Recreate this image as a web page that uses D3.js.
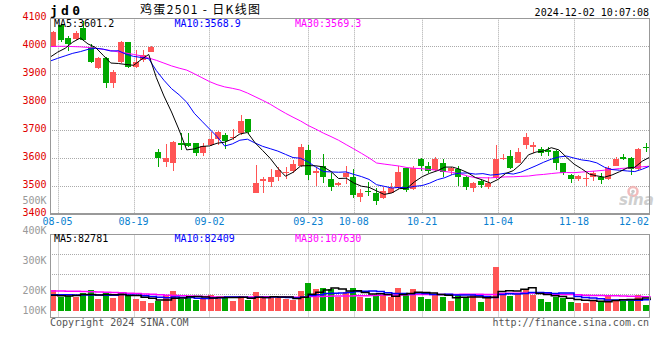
<!DOCTYPE html>
<html>
<head>
<meta charset="utf-8">
<script src="https://cdn.jsdelivr.net/npm/d3@7"></script>
<style>
  html, body { margin: 0; padding: 0; background: #fff; }
  svg { display: block; }
  text { font-family: "DejaVu Sans Mono", monospace; font-size: 10px; }
</style>
</head>
<body>
<div id="chart"></div>
<script>
// trading days shown, 08-02 .. 12-02
const dates = ['08-02','08-05','08-06','08-07','08-08','08-09','08-12','08-13','08-14','08-15',
  '08-16','08-19','08-20','08-21','08-22','08-23','08-26','08-27','08-28','08-29',
  '08-30','09-02','09-03','09-04','09-05','09-06','09-09','09-10','09-11','09-12',
  '09-13','09-18','09-19','09-20','09-23','09-24','09-25','09-26','09-27','09-30',
  '10-08','10-09','10-10','10-11','10-14','10-15','10-16','10-17','10-18','10-21',
  '10-22','10-23','10-24','10-25','10-28','10-29','10-30','10-31','11-01','11-04',
  '11-05','11-06','11-07','11-08','11-11','11-12','11-13','11-14','11-15','11-18',
  '11-19','11-20','11-21','11-22','11-25','11-26','11-27','11-28','11-29','12-02']
const tickDates = ['08-05','08-19','09-02','09-23','10-08','10-21','11-04','11-18','12-02']

const open = [3999,4076,4031,4026,4064,3999,3924,3957,3868,3945,
  4014,3927,3951,3981,3624,3588,3582,3654,3654,3654,
  3620,3648,3668,3683,3671,3691,3739,3477,3520,3516,
  3534,3549,3555,3573,3630,3546,3573,3526,3505,3532,
  3534,3463,3483,3477,3457,3477,3493,3564,3489,3598,
  3573,3558,3584,3555,3561,3534,3495,3519,3499,3529,
  3596,3608,3584,3648,3639,3633,3630,3627,3582,3540,
  3525,3525,3532,3534,3525,3573,3606,3602,3561,3639]
const close = [4052,4022,4007,4046,4022,3945,3959,3868,3907,4014,
  3927,3945,3969,3999,3600,3600,3659,3647,3644,3618,
  3644,3668,3695,3663,3675,3733,3695,3511,3525,3534,
  3558,3552,3580,3639,3540,3555,3532,3499,3513,3546,
  3469,3475,3479,3449,3483,3495,3552,3487,3564,3573,
  3556,3598,3552,3564,3532,3496,3513,3505,3511,3598,
  3602,3564,3621,3677,3648,3620,3623,3582,3546,3525,
  3537,3529,3549,3523,3564,3596,3596,3561,3633,3636]
const high = [4055,4080,4038,4055,4090,4007,3962,3960,3915,4018,
  4016,3987,3987,4002,3632,3651,3663,3689,3691,3656,
  3654,3695,3699,3691,3704,3754,3742,3576,3532,3562,
  3570,3570,3594,3651,3648,3564,3614,3546,3516,3573,
  3561,3489,3516,3495,3499,3513,3573,3566,3573,3600,
  3588,3606,3596,3570,3573,3536,3516,3523,3532,3648,
  3615,3630,3636,3691,3659,3639,3639,3630,3584,3545,
  3540,3549,3556,3546,3573,3604,3614,3604,3636,3654]
const low = [3996,4015,3983,4022,4018,3942,3920,3852,3852,3940,
  3921,3921,3943,3978,3570,3570,3556,3630,3640,3609,
  3609,3645,3648,3632,3665,3683,3687,3477,3477,3499,
  3520,3525,3546,3570,3523,3501,3513,3483,3502,3507,
  3457,3445,3465,3433,3455,3475,3490,3481,3487,3556,
  3546,3556,3532,3540,3501,3487,3481,3495,3489,3527,
  3594,3562,3582,3632,3618,3609,3608,3558,3539,3513,
  3520,3501,3520,3508,3523,3571,3594,3540,3558,3624]
const volume = [162000,109000,115000,109000,136000,162000,89000,141000,97000,148000,
  117000,89000,76000,58000,76000,123000,154000,89000,102000,84000,
  102000,123000,109000,102000,76000,115000,84000,148000,97000,105000,
  97000,89000,84000,154000,219000,170000,180000,167000,109000,148000,
  180000,109000,102000,123000,123000,109000,180000,141000,170000,109000,
  91000,123000,109000,76000,123000,109000,123000,70000,102000,344000,
  136000,117000,136000,162000,123000,91000,70000,109000,97000,70000,
  63000,63000,78000,76000,123000,84000,76000,91000,123000,45000]

// averages before a full window exists
const ma5Head = [3961,3979,3993,4015]
const ma10Head = [3947,3957,3966,3975,3981,3989,3993,3990,3983]
const ma30Head = [3999,4000,4000,3999,3998,3996,3993,3989,3985,3980,
  3976,3971,3966,3958,3950,3940,3930,3922,3915,3902,
  3888,3874,3863,3855,3850,3844,3833,3820,3807]
const volMa5Head = [120000,117000,115000,118000]
const volMa10Head = [125000,124000,124000,123000,123000,122000,122000,121000,121000]
const volMa30Head = [154000,153000,152000,151000,150000,149000,146000,144000,142000,140000,
  137000,134000,131000,128000,125000,121000,118000,116000,114000,112000,
  110000,108000,107000,106000,106000,106000,107000,108000,109000]

const maLegend = ['MA5:3601.2','MA10:3568.9','MA30:3569.3']
const volLegend = ['MA5:82781','MA10:82409','MA30:107630']
const maColors = ['#000000','#0000ff','#ff00ff']

const priceTicks = [3400,3500,3600,3700,3800,3900,4000,4100]
const volTicks = [100000,200000,300000,400000,500000]

const RED = '#ff5555', GREEN = '#00a800'
const GRID = '#aaaaaa', FRAME = '#999999'

const X0 = 50, X1 = 650
const PRICE_TOP = 18.3, PRICE_BOTTOM = 214.3
const VOL_TOP = 234.5, VOL_BOTTOM = 317.5, VOL_BASE = 310.7

const movingAvg = (vals, n, head) =>
  vals.map((v, i) => i < n - 1 ? head[i] : d3.mean(vals.slice(i - n + 1, i + 1)))

const ma5 = movingAvg(close, 5, ma5Head)
const ma10 = movingAvg(close, 10, ma10Head)
const ma30 = movingAvg(close, 30, ma30Head)
const vma5 = movingAvg(volume, 5, volMa5Head)
const vma10 = movingAvg(volume, 10, volMa10Head)
const vma30 = movingAvg(volume, 30, volMa30Head)

const svg = d3.select('#chart').append('svg')
  .attr('width', 660)
  .attr('height', 360)

svg.append('rect').attr('width', 660).attr('height', 360).attr('fill', '#fff')

const xSlot = d3.scaleLinear().domain([0, dates.length]).range([X0, X1])
const xGrid = d3.scaleLinear().domain([0, dates.length - 1]).range([X0, X1])
const yPrice = d3.scaleLinear().domain([3400, 4100]).range([PRICE_BOTTOM, PRICE_TOP])
const yVol = d3.scaleLinear().domain([0, 600000]).range([VOL_BASE, 233.9])
const yVolLabel = d3.scaleLinear().domain([0, 500000]).range([354, 204])

const defs = svg.append('defs')
defs.append('clipPath').attr('id', 'clipPrice')
  .append('rect').attr('x', X0).attr('y', 18).attr('width', 601).attr('height', 196)
defs.append('clipPath').attr('id', 'clipVol')
  .append('rect').attr('x', X0).attr('y', 235).attr('width', 601).attr('height', 82)

const tickIdx = tickDates.map(d => dates.indexOf(d))
const crisp = v => Math.round(v) + 0.5

// grid
const grid = svg.append('g')
  .attr('stroke', GRID)
  .attr('stroke-width', 1)
  .attr('stroke-dasharray', '1,1')

grid.selectAll('line.hp').data(priceTicks.slice(1, -1)).join('line')
  .attr('x1', X0).attr('x2', 649)
  .attr('y1', d => crisp(yPrice(d))).attr('y2', d => crisp(yPrice(d)))

grid.selectAll('line.hv').data([1, 2, 3]).join('line')
  .attr('x1', X0).attr('x2', 649)
  .attr('y1', k => VOL_TOP + 20 * k).attr('y2', k => VOL_TOP + 20 * k)

const innerTicks = tickIdx.filter(i => xGrid(i) < 648)
grid.selectAll('line.vp').data(innerTicks).join('line')
  .attr('x1', i => crisp(xGrid(i))).attr('x2', i => crisp(xGrid(i)))
  .attr('y1', PRICE_TOP).attr('y2', PRICE_BOTTOM)
grid.selectAll('line.vv').data(innerTicks).join('line')
  .attr('x1', i => crisp(xGrid(i))).attr('x2', i => crisp(xGrid(i)))
  .attr('y1', VOL_TOP).attr('y2', VOL_BOTTOM)

// sina watermark
const logo = svg.append('g').attr('opacity', 0.9)
logo.append('circle').attr('cx', 633).attr('cy', 191.5).attr('r', 4.5)
  .attr('fill', 'none').attr('stroke', '#f2b4b4').attr('stroke-width', 2.5)
logo.append('circle').attr('cx', 633).attr('cy', 191.5).attr('r', 1.8).attr('fill', '#c4c4c4')
logo.append('text').attr('x', 619).attr('y', 205)
  .style('font-family', 'DejaVu Sans').style('font-size', '15px')
  .style('font-style', 'italic').style('font-weight', 'bold')
  .attr('fill', '#cacaca').text('sina')

// candles
const idx = d3.range(dates.length)
const isUp = i => close[i] >= open[i]
const bx = i => Math.round(xSlot(i))

const candles = svg.append('g').attr('clip-path', 'url(#clipPrice)').attr('shape-rendering', 'crispEdges')
candles.selectAll('rect.wick').data(idx).join('rect')
  .attr('x', i => bx(i) + 3)
  .attr('width', 1)
  .attr('y', i => Math.round(yPrice(high[i])))
  .attr('height', i => Math.max(1, Math.round(yPrice(low[i])) - Math.round(yPrice(high[i]))))
  .attr('fill', i => isUp(i) ? RED : GREEN)
candles.selectAll('rect.body').data(idx).join('rect')
  .attr('x', i => bx(i))
  .attr('width', 6)
  .attr('y', i => Math.round(yPrice(Math.max(open[i], close[i]))))
  .attr('height', i => Math.max(1, Math.round(yPrice(Math.min(open[i], close[i]))) - Math.round(yPrice(Math.max(open[i], close[i])))))
  .attr('fill', i => isUp(i) ? RED : GREEN)

// price moving averages
const maLine = d3.line().x((d, i) => xGrid(i)).y(d => yPrice(d))
const maG = svg.append('g').attr('clip-path', 'url(#clipPrice)').attr('fill', 'none')
;[ma30, ma10, ma5].forEach((series, k) => {
  maG.append('path').attr('d', maLine(series))
    .attr('stroke', maColors[2 - k]).attr('stroke-width', 1)
})

// volume bars
const vol = svg.append('g').attr('clip-path', 'url(#clipVol)').attr('shape-rendering', 'crispEdges')
vol.selectAll('rect').data(idx).join('rect')
  .attr('x', i => bx(i))
  .attr('width', 6)
  .attr('y', i => Math.round(yVol(volume[i])))
  .attr('height', i => Math.round(VOL_BASE) - Math.round(yVol(volume[i])))
  .attr('fill', i => isUp(i) ? RED : GREEN)

const vmaLine = d3.line().curve(d3.curveStepAfter).x((d, i) => xGrid(i)).y(d => yVol(d))
const vmaG = svg.append('g').attr('clip-path', 'url(#clipVol)').attr('fill', 'none')
;[vma30, vma10, vma5].forEach((series, k) => {
  vmaG.append('path').attr('d', vmaLine(series))
    .attr('stroke', maColors[2 - k]).attr('stroke-width', 1.5)
})

// frames
const frame = svg.append('g').attr('stroke', FRAME).attr('fill', 'none').attr('shape-rendering', 'crispEdges')
frame.append('line').attr('x1', X0).attr('x2', 650).attr('y1', 18.5).attr('y2', 18.5)
frame.append('line').attr('x1', 50.5).attr('x2', 50.5).attr('y1', 18).attr('y2', 215)
frame.append('line').attr('x1', 649.5).attr('x2', 649.5).attr('y1', 18).attr('y2', 215)
frame.append('line').attr('x1', X0).attr('x2', 650).attr('y1', 214).attr('y2', 214).attr('stroke-width', 2)
frame.append('rect').attr('x', 50.5).attr('y', VOL_TOP).attr('width', 599).attr('height', VOL_BOTTOM - VOL_TOP)

// axis labels
svg.append('g').selectAll('text').data(priceTicks).join('text')
  .attr('x', 46.5).attr('y', d => yPrice(d) + 2)
  .attr('text-anchor', 'end').attr('fill', '#e00000')
  .text(d => d)

svg.append('g').selectAll('text').data(volTicks).join('text')
  .attr('x', 46.5).attr('y', d => Math.min(314, yVolLabel(d)))
  .attr('text-anchor', 'end').attr('fill', '#999')
  .text(d => d3.format('d')(d / 1000) + 'K')

svg.append('g').selectAll('text').data(tickIdx).join('text')
  .attr('x', i => Math.min(xGrid(i), 649 - 15))
  .attr('y', 225)
  .attr('text-anchor', 'middle').attr('fill', '#0a7fd0')
  .text(i => dates[i])

// legends
svg.append('g').selectAll('text').data(maLegend).join('text')
  .attr('x', (d, k) => 54 + 120.5 * k).attr('y', 26.5)
  .attr('fill', (d, k) => maColors[k]).text(d => d)
svg.append('g').selectAll('text').data(volLegend).join('text')
  .attr('x', (d, k) => 54 + 120.5 * k).attr('y', 241.5)
  .attr('fill', (d, k) => maColors[k]).text(d => d)

// titles
svg.append('text').attr('x', 50).attr('y', 15)
  .style('font-size', '13px').style('font-weight', 'bold')
  .attr('textLength', 30).attr('lengthAdjust', 'spacing')
  .text('jd0')
svg.append('text').attr('x', 200).attr('y', 14).attr('text-anchor', 'middle')
  .style('font-family', '"Noto Sans CJK SC", sans-serif').style('font-size', '12px')
  .attr('textLength', 120).attr('lengthAdjust', 'spacing')
  .text('鸡蛋2501 - 日K线图')
svg.append('text').attr('x', 649).attr('y', 16).attr('text-anchor', 'end')
  .text('2024-12-02 10:07:08')

svg.append('text').attr('x', 50).attr('y', 326).attr('fill', '#555')
  .text('Copyright 2024 SINA.COM')
svg.append('text').attr('x', 649).attr('y', 326).attr('text-anchor', 'end').attr('fill', '#555')
  .text('http://finance.sina.com.cn')
</script>
</body>
</html>
